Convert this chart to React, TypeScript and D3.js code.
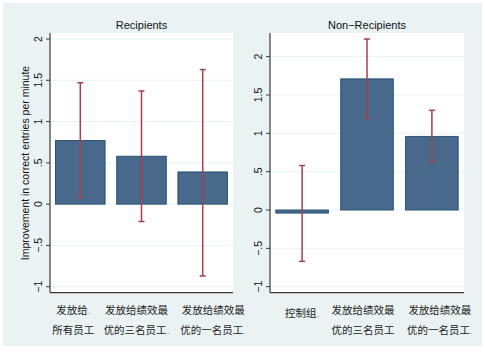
import React from "react";
import * as d3 from "d3";

// values
const recipientsLabels = [["发放给.", "所有员工"], ["发放给绩效最", "优的三名员工."], ["发放给绩效最", "优的一名员工."]];
const recipientsMeans = [0.77, 0.58, 0.39];
const recipientsLower = [0.08, -0.21, -0.87];
const recipientsUpper = [1.47, 1.37, 1.63];

const nonRecipientsLabels = [["控制组."], ["发放给绩效最", "优的三名员工"], ["发放给绩效最", "优的一名员工."]];
const nonRecipientsMeans = [-0.04, 1.71, 0.96];
const nonRecipientsLower = [-0.67, 1.2, 0.63];
const nonRecipientsUpper = [0.58, 2.23, 1.3];

const yTicks = [-1, -0.5, 0, 0.5, 1, 1.5, 2];
const yTickLabels = ["−1", "−.5", "0", ".5", "1", "1.5", "2"];

const W = 485, H = 352;
const BG = "#eaf2f3";
const LATIN = "'Liberation Sans', Arial, sans-serif";
const CJK = "'Noto Sans CJK SC', sans-serif";

const Label = ({ text, x, y }) => {
  // trailing "." in Stata's truncated labels is drawn small and grey
  const dot = text.endsWith(".");
  const body = dot ? text.slice(0, -1) : text;
  return (
    <text x={x} y={y} textAnchor="middle" fontFamily={CJK} fontSize={10.5} fill="#222" dy="0.35em">
      {body}
      {dot && <tspan fontSize={8} fill="#888" dx={0.5}>.</tspan>}
    </text>
  );
};

const Panel = ({ title, labels, means, lower, upper, x0, x1, nudges }) => {
  const y0 = 33, y1 = 292.7;
  const lo = Math.min(-1, d3.min(lower));
  const hi = Math.max(2, d3.max(upper));
  const y = d3.scaleLinear().domain([lo, hi]).range([y1 - 6, y0 + 6]);
  const x = d3.scaleBand().domain(d3.range(means.length)).range([x0, x1]).paddingInner(0.19).paddingOuter(0.09);
  const bw = x.bandwidth();
  const cap = 3;

  return (
    <g>
      <rect x={x0} y={y0} width={x1 - x0} height={y1 - y0} fill="#fff" />
      {yTicks.map((t) => (
        <line key={t} x1={x0} x2={x1} y1={y(t)} y2={y(t)} stroke={BG} strokeWidth={1} />
      ))}
      {means.map((m, i) => (
        <rect key={i} x={x(i)} y={Math.min(y(m), y(0))} width={bw} height={Math.abs(y(m) - y(0))}
          fill="#48698c" stroke="#1f4a72" strokeWidth={0.9} />
      ))}
      {means.map((m, i) => {
        const cx = x(i) + bw / 2;
        return (
          <g key={i} stroke="#a2404b" strokeWidth={1.5}>
            <line x1={cx} x2={cx} y1={y(upper[i])} y2={y(lower[i])} />
            <line x1={cx - cap} x2={cx + cap} y1={y(upper[i])} y2={y(upper[i])} />
            <line x1={cx - cap} x2={cx + cap} y1={y(lower[i])} y2={y(lower[i])} />
          </g>
        );
      })}
      <line x1={x0} x2={x0} y1={y0} y2={y1} stroke="#3a3a3a" strokeWidth={1.2} />
      <line x1={x0} x2={x1} y1={y1} y2={y1} stroke="#3a3a3a" strokeWidth={1.2} />
      {yTicks.map((t, i) => (
        <g key={t}>
          <line x1={x0 - 4} x2={x0} y1={y(t)} y2={y(t)} stroke="#3a3a3a" strokeWidth={1} />
          <text transform={`translate(${x0 - 8},${y(t)}) rotate(-90)`} textAnchor="middle"
            fontFamily={LATIN} fontSize={10.5} fill="#111">{yTickLabels[i]}</text>
        </g>
      ))}
      <text x={(x0 + x1) / 2} y={29} textAnchor="middle" fontFamily={LATIN} fontSize={11} fill="#111">{title}</text>
      {labels.map((lines, i) => {
        const cx = x(i) + bw / 2 + nudges[i];
        return lines.length === 1
          ? <Label key={i} text={lines[0]} x={cx} y={313} />
          : lines.map((s, j) => <Label key={i + "-" + j} text={s} x={cx} y={310 + j * 20} />);
      })}
    </g>
  );
};

export default function App() {
  return (
    <svg width={W} height={H} style={{ position: "absolute", left: 0, top: 0, background: "#fff" }}>
      <rect x={3} y={3} width={479} height={343} fill={BG} />
      <Panel title="Recipients" labels={recipientsLabels} means={recipientsMeans}
        lower={recipientsLower} upper={recipientsUpper} x0={50} x1={233} nudges={[-7, -5, 10.5]} />
      <Panel title="Non−Recipients" labels={nonRecipientsLabels} means={nonRecipientsMeans}
        lower={nonRecipientsLower} upper={nonRecipientsUpper} x0={270} x1={464} nudges={[0, -4, 8]} />
      <text transform="translate(25,163) rotate(-90)" textAnchor="middle" dy="0.35em"
        fontFamily={LATIN} fontSize={10.5} fill="#111">Improvement in correct entries per minute</text>
    </svg>
  );
}
